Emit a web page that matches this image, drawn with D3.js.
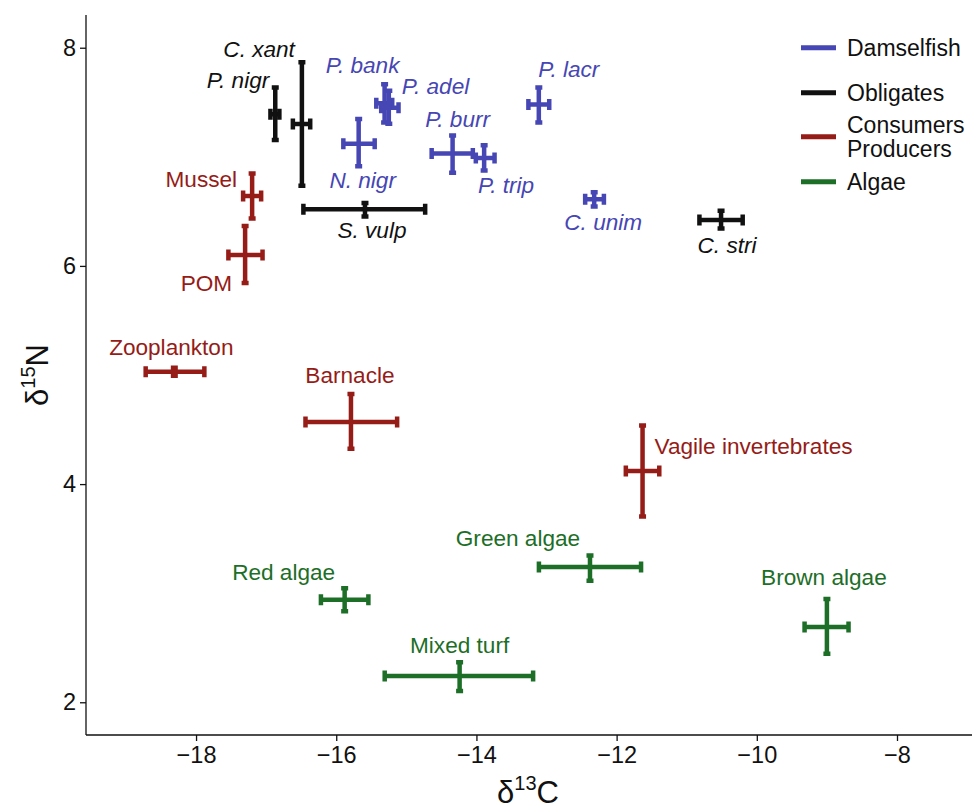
<!DOCTYPE html>
<html>
<head>
  <meta charset="utf-8">
  <title>Isotope biplot</title>
  <script src="https://d3js.org/d3.v7.min.js"></script>
  <style>
    body { margin: 0; background: #fff; }
    svg { font-family: "Liberation Sans", Arial, sans-serif; }
  </style>
</head>
<body>
<svg width="976" height="811"></svg>
<script>
// groups
var groups = ["Damselfish", "Obligates", "Consumers", "Algae"]
var groupColors = ["#4646b4", "#111111", "#951c17", "#1d6e27"]

// one entry per taxon: name, group, mean and range of d13C / d15N
var names = ["P. nigr", "C. xant", "S. vulp", "C. stri",
  "P. bank", "P. adel", "N. nigr", "P. burr", "P. trip", "P. lacr", "C. unim",
  "Mussel", "POM", "Zooplankton", "Barnacle", "Vagile invertebrates",
  "Red algae", "Mixed turf", "Green algae", "Brown algae"]
var group = [1, 1, 1, 1,
  0, 0, 0, 0, 0, 0, 0,
  2, 2, 2, 2, 2,
  3, 3, 3, 3]
var c13 =   [-16.87, -16.49, -15.59, -10.51, -15.31, -15.25, -15.68, -14.34, -13.89, -13.11, -12.32, -17.20, -17.30, -18.31, -15.79, -11.63, -15.88, -14.24, -12.38, -9.00]
var c13lo = [-16.96, -16.64, -16.49, -10.84, -15.45, -15.38, -15.92, -14.66, -14.03, -13.28, -12.47, -17.35, -17.56, -18.74, -16.46, -11.89, -16.24, -15.33, -13.13, -9.34]
var c13hi = [-16.79, -16.35, -14.71, -10.18, -15.18, -15.09, -15.43, -14.03, -13.72, -12.94, -12.16, -17.05, -17.03, -17.86, -15.11, -11.37, -15.52, -13.17, -11.63, -8.67]
var n15 =   [7.39, 7.30, 6.52, 6.42, 7.49, 7.45, 7.12, 7.03, 6.99, 7.48, 6.61, 6.64, 6.10, 5.03, 4.57, 4.12, 2.94, 2.24, 3.24, 2.69]
var n15lo = [7.14, 6.72, 6.44, 6.33, 7.30, 7.29, 6.90, 6.84, 6.86, 7.30, 6.53, 6.42, 5.83, 4.98, 4.31, 3.69, 2.82, 2.09, 3.10, 2.43]
var n15hi = [7.65, 7.88, 6.59, 6.52, 7.68, 7.62, 7.36, 7.21, 7.12, 7.65, 6.69, 6.86, 6.38, 5.08, 4.84, 4.55, 3.06, 2.38, 3.36, 2.96]

var xTicks = [-18, -16, -14, -12, -10, -8]
var yTicks = [2, 4, 6, 8]

// label placement (pixel offset from the point, anchor)
var labelPos = {
  "P. nigr": [-6, -26, "end"], "C. xant": [-7, -67, "end"],
  "S. vulp": [7, 29, "middle"], "C. stri": [6, 33, "middle"],
  "P. bank": [-22, -30, "middle"], "P. adel": [13, -14, "start"],
  "N. nigr": [4, 44, "middle"], "P. burr": [5, -27, "middle"],
  "P. trip": [22, 35, "middle"], "P. lacr": [30, -27, "middle"],
  "C. unim": [9, 31, "middle"], "Mussel": [-15, -9, "end"],
  "POM": [-13, 36, "end"], "Zooplankton": [-3, -17, "middle"],
  "Barnacle": [-1, -39, "middle"], "Vagile invertebrates": [12, -17, "start"],
  "Red algae": [-61, -20, "middle"], "Mixed turf": [0, -23, "middle"],
  "Green algae": [-72, -21, "middle"], "Brown algae": [-3, -42, "middle"]
}

var svg = d3.select("svg")
var x = d3.scaleLinear().domain([-19.57, -6.93]).range([86, 972])
var y = d3.scaleLinear().domain([1.70, 8.30]).range([735, 15])

var pts = names.map(function (n, i) {
  return { name: n, g: group[i], x: c13[i], xlo: c13lo[i], xhi: c13hi[i],
           y: n15[i], ylo: n15lo[i], yhi: n15hi[i] }
})

// axes
var xAxis = svg.append("g")
  .attr("transform", "translate(0,735)")
  .call(d3.axisBottom(x).tickValues(xTicks).tickSize(6).tickPadding(5)
    .tickFormat(function (d) { return d < 0 ? "\u2212" + Math.abs(d) : d }))
var yAxis = svg.append("g")
  .attr("transform", "translate(86,0)")
  .call(d3.axisLeft(y).tickValues(yTicks).tickSize(6).tickPadding(4)
    .tickFormat(d3.format("d")))
;[xAxis, yAxis].forEach(function (a) {
  a.select(".domain").attr("stroke", "#111").attr("stroke-width", 1.3)
  a.selectAll(".tick line").attr("stroke", "#111").attr("stroke-width", 1.3)
  a.selectAll(".tick text").attr("font-size", 23.5).attr("fill", "#111")
    .attr("font-family", "Liberation Sans, Arial, sans-serif")
})
// extend domain lines to cover whole plot
xAxis.select(".domain").attr("d", "M0,0H" + (972 - 86)).attr("transform", "translate(86,0)")
yAxis.select(".domain").attr("d", "M0,15V735")

// axis titles
var xt = svg.append("text").attr("x", 497).attr("y", 803).attr("font-size", 31).attr("fill", "#111")
xt.append("tspan").text("\u03b4")
xt.append("tspan").attr("font-size", 20).attr("dy", -13).text("13")
xt.append("tspan").attr("dy", 13).text("C")

var yt = svg.append("text").attr("transform", "translate(48,406) rotate(-90)")
  .attr("font-size", 31).attr("fill", "#111")
yt.append("tspan").text("\u03b4")
yt.append("tspan").attr("font-size", 20).attr("dy", -13).text("15")
yt.append("tspan").attr("dy", 13).text("N")

// error bars
var bars = svg.append("g").selectAll("g").data(pts).enter().append("g")
  .attr("stroke", function (d) { return groupColors[d.g] })
  .attr("stroke-width", 4.5).attr("fill", "none")

bars.append("path").attr("d", function (d) {
  var cy = y(d.y), x0 = x(d.xlo), x1 = x(d.xhi)
  return "M" + x0 + "," + cy + "H" + x1 +
    "M" + (x0 + 1.5) + "," + (cy - 5.5) + "V" + (cy + 5.5) +
    "M" + (x1 - 1.5) + "," + (cy - 5.5) + "V" + (cy + 5.5)
})
bars.append("path").attr("d", function (d) {
  var cx = x(d.x), y0 = y(d.ylo), y1 = y(d.yhi)
  return "M" + cx + "," + y0 + "V" + y1 +
    "M" + (cx - 3.5) + "," + (y0 - 1.5) + "H" + (cx + 3.5) +
    "M" + (cx - 3.5) + "," + (y1 + 1.5) + "H" + (cx + 3.5)
})

// labels
svg.append("g").selectAll("text").data(pts).enter().append("text")
  .attr("x", function (d) { return x(d.x) + labelPos[d.name][0] })
  .attr("y", function (d) { return y(d.y) + labelPos[d.name][1] })
  .attr("text-anchor", function (d) { return labelPos[d.name][2] })
  .attr("font-size", 22.6)
  .attr("font-style", function (d) { return d.g < 2 ? "italic" : "normal" })
  .attr("fill", function (d) { return groupColors[d.g] })
  .text(function (d) { return d.name })

// legend
var legendY = [47.7, 92.7, 136.7, 181.7]
var leg = svg.append("g").selectAll("g").data(groups).enter().append("g")
leg.append("line")
  .attr("x1", 801).attr("x2", 836)
  .attr("y1", function (d, i) { return legendY[i] })
  .attr("y2", function (d, i) { return legendY[i] })
  .attr("stroke", function (d, i) { return groupColors[i] })
  .attr("stroke-width", 5)
leg.each(function (d, i) {
  var t = d3.select(this).append("text").attr("x", 847).attr("font-size", 23).attr("fill", "#111")
  if (d === "Consumers") {
    t.append("tspan").attr("x", 847).attr("y", legendY[i] - 4).text("Consumers")
    t.append("tspan").attr("x", 847).attr("y", legendY[i] + 20).text("Producers")
  } else {
    t.attr("y", legendY[i] + 8).text(d)
  }
})
</script>
</body>
</html>
